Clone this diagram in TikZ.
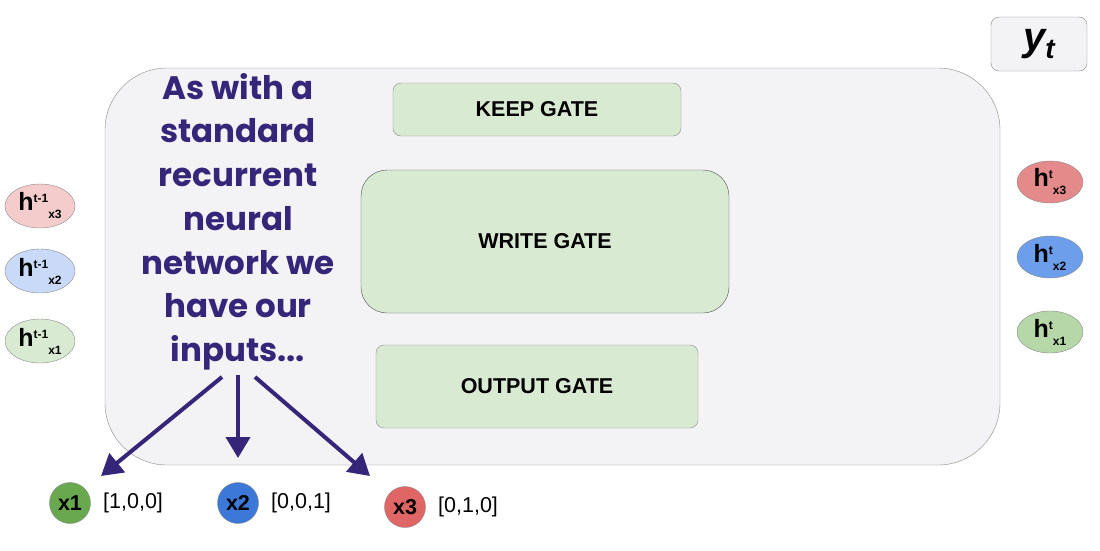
\documentclass[tikz,border=0pt]{standalone}
\usepackage{fontspec}
\setmainfont{Liberation Sans}
\newfontfamily\popfont{Poppins}
\usetikzlibrary{arrows.meta,shapes.geometric}
\definecolor{cellfill}{HTML}{F3F2F5}
\definecolor{cellline}{HTML}{8A8A8A}
\definecolor{gatefill}{HTML}{D9EAD3}
\definecolor{inkpurple}{HTML}{35267A}
\definecolor{pinklt}{HTML}{F4CCCC}
\definecolor{bluelt}{HTML}{C9DAF8}
\definecolor{greenlt}{HTML}{D9EAD3}
\definecolor{pinkdk}{HTML}{E48A8A}
\definecolor{bluedk}{HTML}{6D9EEB}
\definecolor{greendk}{HTML}{B6D7A8}
\definecolor{xgreen}{HTML}{6AA84F}
\definecolor{xblue}{HTML}{3C78D8}
\definecolor{xred}{HTML}{E06666}
\newcommand{\hlab}[2]{{\fontsize{25}{25}\selectfont\bfseries h}\raisebox{8pt}{\fontsize{12}{12}\selectfont\bfseries #1}\raisebox{-8pt}{\fontsize{12}{12}\selectfont\bfseries #2}}
\tikzset{
  gate/.style={draw=cellline, fill=gatefill, rounded corners=8pt, inner sep=0pt,
    font=\fontsize{21.5}{21.5}\selectfont\bfseries},
  hold/.style={ellipse, draw=cellline, inner sep=0pt, minimum width=70pt, minimum height=44pt},
  hnew/.style={ellipse, draw=cellline, inner sep=0pt, minimum width=66pt, minimum height=42pt},
  xin/.style={circle, draw=cellline, inner sep=0pt, minimum size=41pt,
    font=\fontsize{21.5}{21.5}\selectfont\bfseries},
  vec/.style={anchor=west, inner sep=0pt, font=\fontsize{21.5}{21.5}\selectfont},
  feed/.style={draw=inkpurple, line width=4pt, -{Triangle[length=21pt,width=24pt]}},
}
\begin{document}
\begin{tikzpicture}[x=1pt,y=-1pt]
\useasboundingbox (0,0) rectangle (1100,550);
\fill[white] (0,0) rectangle (1100,550);

% the cell body
\draw[cellline, fill=cellfill, rounded corners=62pt] (105,68) rectangle (1000,465);

% output box
\node[draw=cellline, fill=cellfill, rounded corners=8pt, inner sep=0pt,
  minimum width=96pt, minimum height=54pt] (yt) at (1039,44)
  {\fontsize{40}{40}\selectfont\bfseries\itshape y\raisebox{-8pt}{\fontsize{28}{28}\selectfont t}};

% gates
\node[gate, minimum width=288pt, minimum height=53pt] (keep) at (537,109.5) {KEEP GATE};
\node[gate, draw=black!70, rounded corners=26pt, minimum width=368pt, minimum height=143pt] (write) at (545,241.5) {WRITE GATE};
\node[gate, minimum width=322pt, minimum height=83pt] (output) at (537,386.5) {OUTPUT GATE};

% caption
\node[align=center, text=inkpurple, inner sep=0pt, anchor=north,
  font=\popfont\bfseries\fontsize{32.5}{43.7}\selectfont] (cap) at (238,73)
  {As with a\\standard\\recurrent\\neural\\network we\\have our\\inputs...};

% previous hidden states
\node[hold, fill=pinklt] (hp3) at (40,206) {\hlab{t-1}{x3}};
\node[hold, fill=bluelt] (hp2) at (40,271) {\hlab{t-1}{x2}};
\node[hold, fill=greenlt] (hp1) at (40,341) {\hlab{t-1}{x1}};

% current hidden states
\node[hnew, fill=pinkdk] (hn3) at (1050,182) {\hlab{t}{x3}};
\node[hnew, fill=bluedk] (hn2) at (1050,257) {\hlab{t}{x2}};
\node[hnew, fill=greendk] (hn1) at (1050,332) {\hlab{t}{x1}};

% inputs
\node[xin, fill=xgreen] (x1) at (70,503) {x1};
\node[xin, fill=xblue] (x2) at (238,503) {x2};
\node[xin, fill=xred] (x3) at (405,507) {x3};
\node[vec] (v1) at (103,503) {[1,0,0]};
\node[vec] (v2) at (271,503) {[0,0,1]};
\node[vec] (v3) at (438,507) {[0,1,0]};

% arrows from caption to inputs
\coordinate (sl) at (222,377);
\coordinate (sm) at (238,375);
\coordinate (sr) at (255,377);
\coordinate (el) at (101,476);
\coordinate (em) at (238,458);
\coordinate (er) at (370,476);
\draw[feed] (sl) -- (el);
\draw[feed] (sm) -- (em);
\draw[feed] (sr) -- (er);
\end{tikzpicture}
\end{document}
